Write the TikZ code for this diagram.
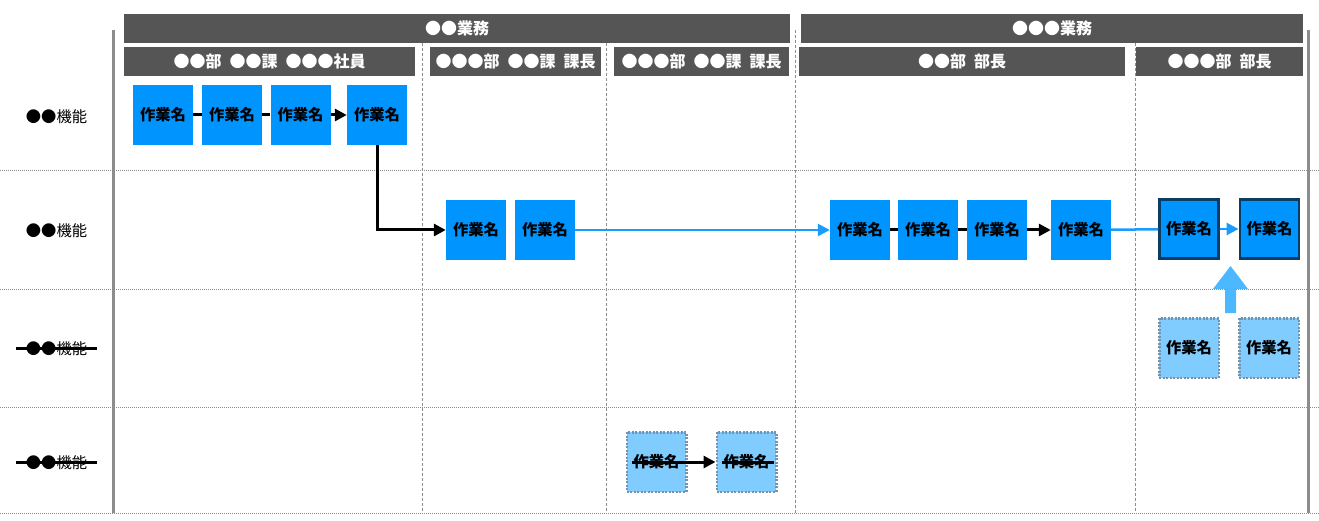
\documentclass[tikz,border=0pt]{standalone}
\usepackage{fontspec}
\setmainfont{Noto Sans CJK JP}
\usetikzlibrary{arrows.meta}
\definecolor{hdrgray}{HTML}{555555}
\definecolor{taskblue}{HTML}{0094FF}
\definecolor{lightblue}{HTML}{80CCFF}
\definecolor{dotborder}{HTML}{7593AD}
\definecolor{darkborder}{HTML}{0B3C63}
\definecolor{arrowblue}{HTML}{4CB8FF}
\definecolor{lineblue}{HTML}{1A9CFF}
\definecolor{gridgray}{HTML}{8C8C8C}
\newcommand\hsp{\hspace{0.5em}}
\begin{document}
\begin{tikzpicture}[x=1pt,y=-1pt,
  hdr/.style={fill=hdrgray,text=white,inner sep=0pt,font=\fontsize{16}{16}\selectfont\bfseries},
  task/.style={fill=taskblue,minimum width=60pt,minimum height=60pt,inner sep=0pt,font=\fontsize{15.3}{15.3}\selectfont\bfseries},
  taskdark/.style={task,draw=darkborder,line width=2.8pt,minimum width=59pt,minimum height=59pt},
  taskopt/.style={task,fill=lightblue,draw=dotborder,line width=2.5pt,dash pattern=on 2pt off 1.5pt,minimum width=59.5pt,minimum height=59.5pt},
  rowlabel/.style={inner sep=0pt,font=\fontsize{15.3}{15.3}\selectfont},
  strikeline/.style={line width=3pt,black},
  blk/.style={line width=3pt,black},
  blu/.style={line width=2.5pt,lineblue},
  tip/.style={-{Triangle[length=12pt,width=12pt]}},
  hgrid/.style={gridgray,line width=0.9pt,dash pattern=on 1pt off 1pt},
  vgrid/.style={gridgray,line width=0.9pt,dash pattern=on 3pt off 2pt},
  border/.style={gridgray,line width=3pt}
]
\useasboundingbox (0,0) rectangle (1319,521);
% grid
\draw[hgrid] (0,170) -- (1319,170);
\draw[hgrid] (0,289) -- (1319,289);
\draw[hgrid] (0,407) -- (1319,407);
\draw[hgrid] (0,513) -- (1319,513);
\draw[vgrid] (422,43) -- (422,513);
\draw[vgrid] (606,43) -- (606,513);
\draw[vgrid] (795,30) -- (795,513);
\draw[vgrid] (1135,43) -- (1135,513);
\draw[border] (113,30) -- (113,513);
\draw[border] (1308,30) -- (1308,513);
% headers
\node[hdr,minimum width=666pt,minimum height=29pt] (h1) at (457,28.5) {●●業務};
\node[hdr,minimum width=502pt,minimum height=29pt] (h2) at (1052,28.5) {●●●業務};
\node[hdr,minimum width=291pt,minimum height=29pt] (s1) at (269.5,61.5) {●●部\hsp{}●●課\hsp{}●●●社員};
\node[hdr,minimum width=171pt,minimum height=29pt] (s2) at (515.5,61.5) {●●●部\hsp{}●●課\hsp{}課長};
\node[hdr,minimum width=175pt,minimum height=29pt] (s3) at (701.5,61.5) {●●●部\hsp{}●●課\hsp{}課長};
\node[hdr,minimum width=326pt,minimum height=29pt] (s4) at (962,61.5) {●●部\hsp{}部長};
\node[hdr,minimum width=167pt,minimum height=29pt] (s5) at (1219.5,61.5) {●●●部\hsp{}部長};
% row labels
\node[rowlabel] (l1) at (56.5,117) {●●機能};
\node[rowlabel] (l2) at (56.5,231) {●●機能};
\node[rowlabel] (l3) at (56.5,349) {●●機能};
\node[rowlabel] (l4) at (56.5,463) {●●機能};
\draw[strikeline] ([xshift=-10pt]l3.west|-0,348) -- ([xshift=10pt]l3.east|-0,348);
\draw[strikeline] ([xshift=-10pt]l4.west|-0,462) -- ([xshift=10pt]l4.east|-0,462);
% tasks row 1
\node[task] (a1) at (163,115) {作業名};
\node[task] (a2) at (232,115) {作業名};
\node[task] (a3) at (300.5,115) {作業名};
\node[task] (a4) at (377,115) {作業名};
% row 2
\node[task] (b1) at (476,230) {作業名};
\node[task] (b2) at (545,230) {作業名};
\node[task] (b3) at (860,230) {作業名};
\node[task] (b4) at (928,230) {作業名};
\node[task] (b5) at (997,230) {作業名};
\node[task] (b6) at (1081,230) {作業名};
\node[taskdark] (b7) at (1189,229) {作業名};
\node[taskdark] (b8) at (1269.5,229) {作業名};
% row 3
\node[taskopt] (c1) at (1189,348) {作業名};
\node[taskopt] (c2) at (1269,348) {作業名};
% row 4
\node[taskopt] (d1) at (656.5,462) {作業名};
\node[taskopt] (d2) at (746.5,462) {作業名};
\draw[strikeline] ([xshift=6pt]d1.west) -- ([xshift=1pt]d1.east);
\draw[strikeline] ([xshift=6pt]d2.west) -- ([xshift=-4pt]d2.east);
% connectors
\draw[blk] (a1) -- (a2);
\draw[blk] (a2) -- (a3);
\draw[blk,tip] (a3) -- (a4);
\draw[blk,tip] (a4.south) |- (b1.west);
\draw[blu,tip] (b2) -- (b3);
\draw[blk] (b3) -- (b4);
\draw[blk] (b4) -- (b5);
\draw[blk,tip] (b5) -- (b6);
\draw[blu] (b6) -- (b7);
\draw[blu,tip] (b7) -- (b8);
\draw[blk,tip] (d1) -- (d2);
% block arrow
\coordinate (ba) at (1230.5,313);
\fill[arrowblue] (ba) ++(-5.5,0) -- ++(0,-24) -- ++(-12,0) -- (1230.5,266) -- (1248,289) -- ++(-12,0) -- ++(0,24) -- cycle;
\end{tikzpicture}
\end{document}
